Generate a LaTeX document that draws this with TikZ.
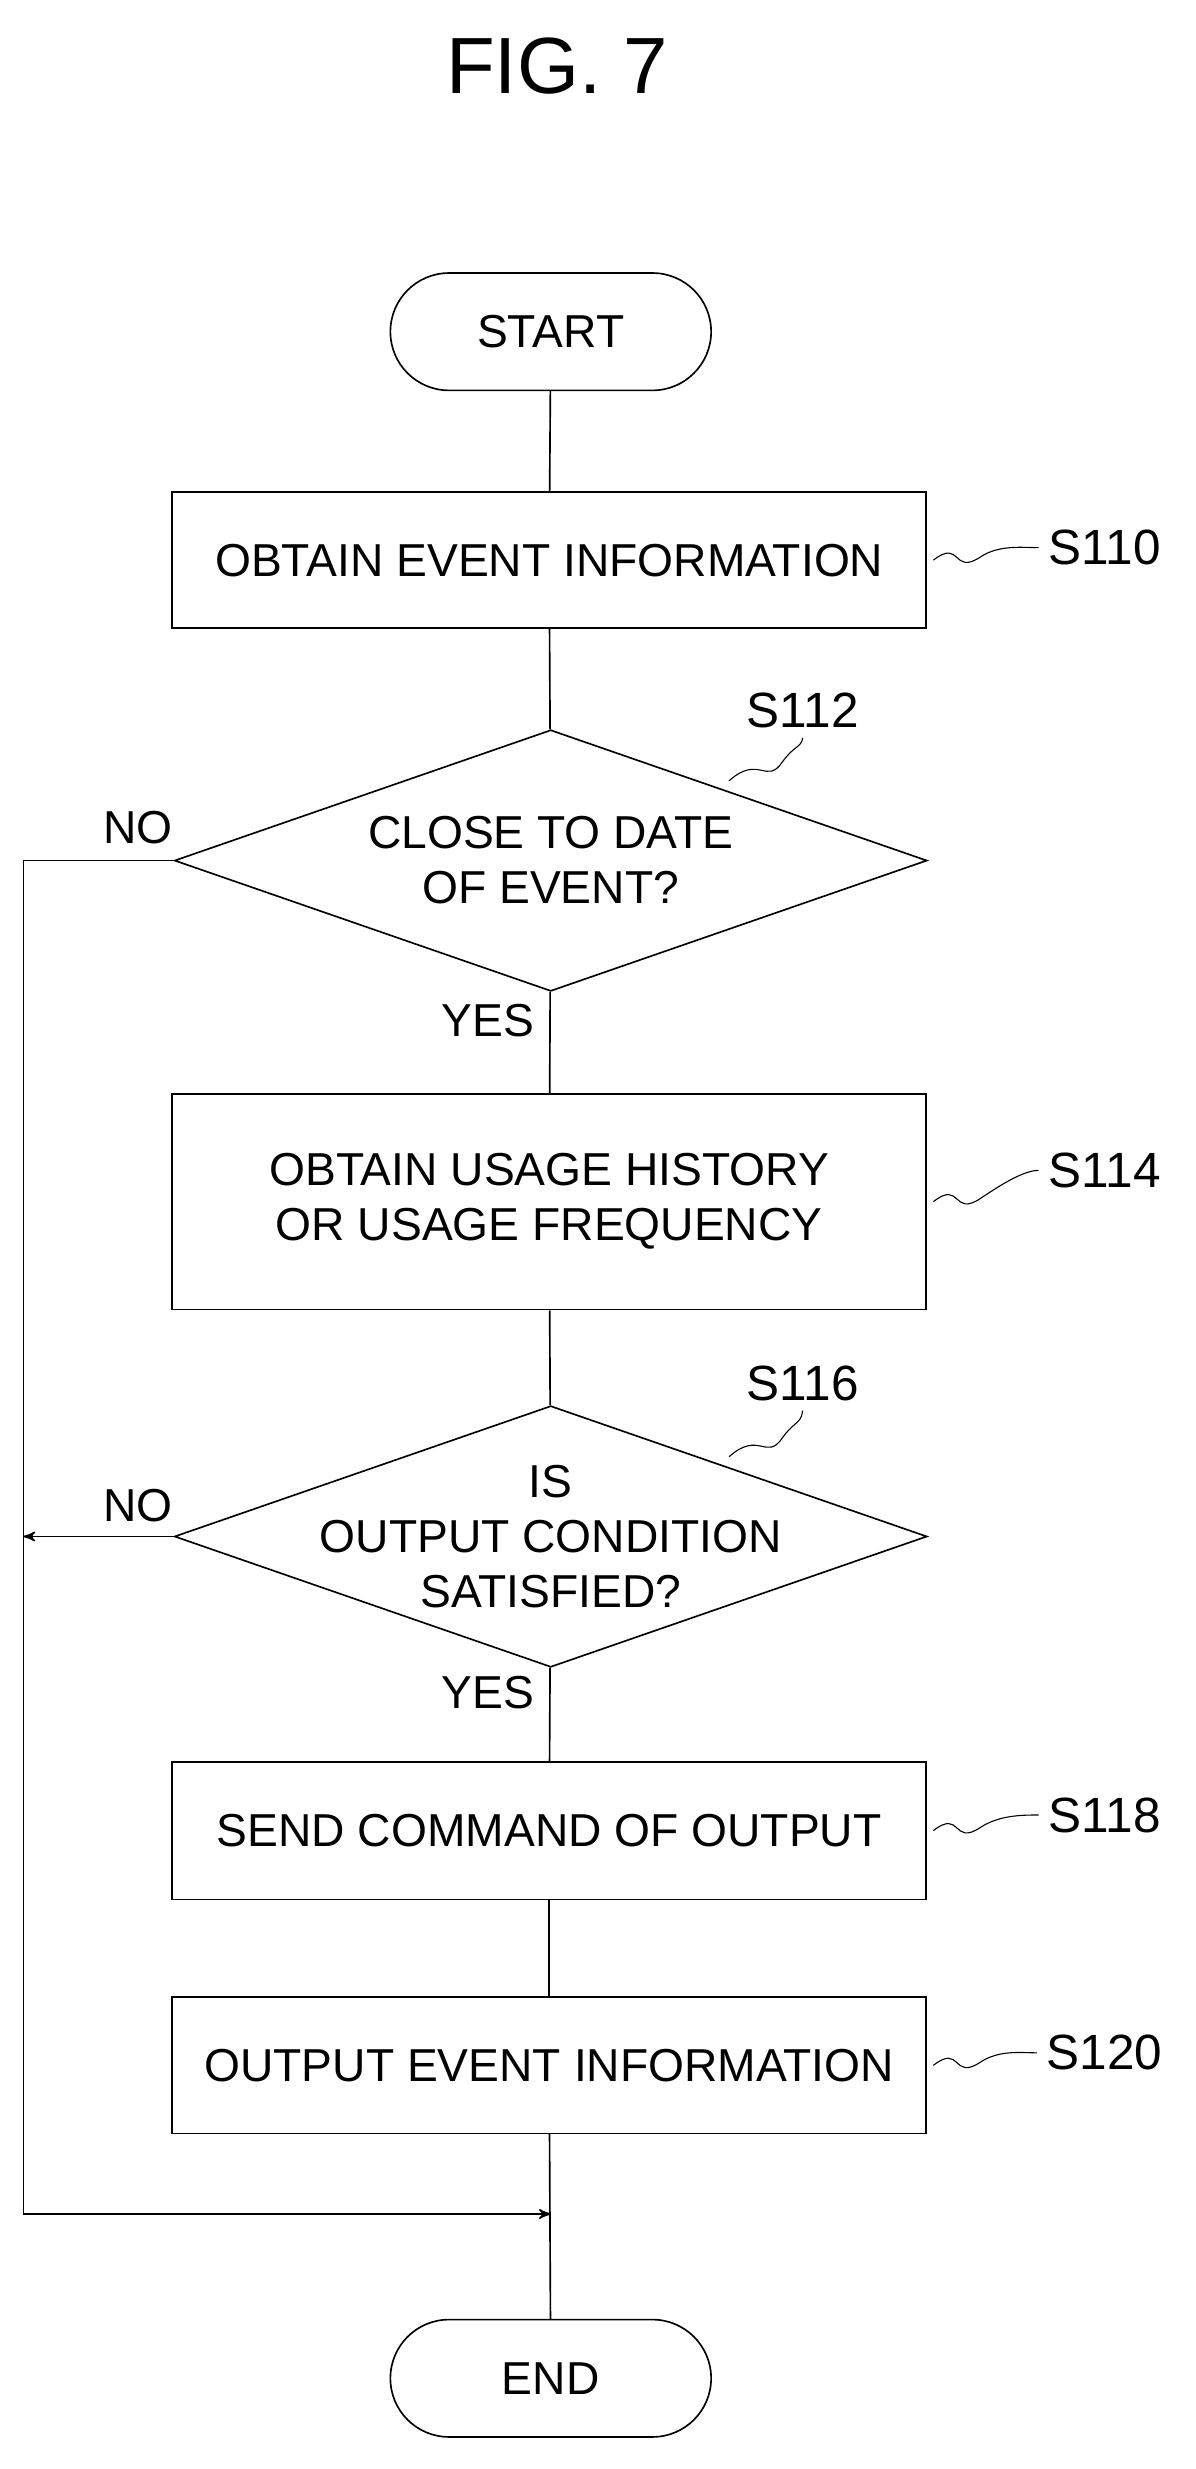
\documentclass[tikz,border=0pt]{standalone}
\usepackage{fontspec}
\setmainfont{Liberation Sans}
\usetikzlibrary{arrows, shapes.geometric}

\begin{document}
\begin{tikzpicture}[x=0.2mm,y=-0.2mm,semithick,font=\fontsize{16.8}{20}\selectfont,
		box/.style={draw, minimum width=96.4mm, align=center},
		term/.style={draw, rounded corners=7.5mm, minimum width=41mm, minimum height=15mm},
		test/.style={draw, diamond, aspect=2.9, minimum width=96.2mm, minimum height=33.4mm, inner sep=0pt},
		tag/.style={font=\fontsize{18}{20}\selectfont},
		wave/.style={thin}]
			\useasboundingbox (0,0) rectangle (764,1578);
			\node[font=\fontsize{29}{32}\selectfont] (title) at (356,42) {FIG. 7};
			\node[term]                     (S) at (352,212) {START};
			\node[box, minimum height=17.4mm] (A) at (351,358) {OBTAIN EVENT INFORMATION};
			\node[test, label={[align=center]center:CLOSE TO DATE\\OF EVENT?}] (B) at (352,550) {};
			\node[box, minimum height=27.6mm] (C) at (351,768) {OBTAIN USAGE HISTORY\\OR USAGE FREQUENCY};
			\node[test, label={[align=center]center:IS\\OUTPUT CONDITION\\SATISFIED?}] (D) at (352,982) {};
			\node[box, minimum height=17.6mm] (E) at (351,1170) {SEND COMMAND OF OUTPUT};
			\node[box, minimum height=17.4mm] (F) at (351,1320) {OUTPUT EVENT INFORMATION};
			\node[term]                     (G) at (352,1520) {END};
			\coordinate (M) at (352,1415);
			\coordinate (L1) at (15,550);
			\coordinate (L2) at (15,982);
			\coordinate (L3) at (15,1415);
			% step labels
			\node[tag] (tA) at (706,350) {S110};
			\node[tag] (tB) at (513,454) {S112};
			\node[tag] (tC) at (706,748) {S114};
			\node[tag] (tD) at (513,884) {S116};
			\node[tag] (tE) at (706,1160) {S118};
			\node[tag] (tF) at (706,1312) {S120};
			\foreach \n in {A,C,E,F}
				\draw[wave] (\n.east) ++(4,0) .. controls ++(18,-14) and ++(-18,12) .. ++(30,-2) .. controls ++(12,-8) and ++(-10,0) .. (t\n.west);
			\draw[wave] (466,499) .. controls (485,482) and (490,502) .. (500,487) .. controls (508,476) and (512,478) .. (tB.south);
			\draw[wave] (466,931) .. controls (485,914) and (490,934) .. (500,919) .. controls (508,908) and (512,910) .. (tD.south);
			% flow
			\draw (S) -- (A);
			\draw (A) -- (B);
			\draw (B) -- (C);
			\draw (C) -- (D);
			\draw (D) -- (E);
			\draw (E) -- (F);
			\draw (F) -- (G);
			\draw (B.west) -- (L1) -- (L3);
			\draw[->,>=stealth'] (L3) -- (M);
			\draw[->,>=stealth'] (D.west) -- (L2);
			\node (nB) at (88,529) {NO};
			\node (nD) at (88,962) {NO};
			\node (yB) at (312,652) {YES};
			\node (yD) at (312,1082) {YES};
		\end{tikzpicture}
\end{document}
